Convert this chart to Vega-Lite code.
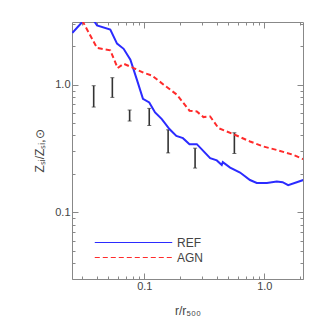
{
  "$schema": "https://vega.github.io/schema/vega-lite/v6.json",
  "width": 231,
  "height": 257,
  "autosize": {"type": "none"},
  "padding": {"left": 72, "top": 22, "right": 22, "bottom": 46},
  "background": "white",
  "config": {
    "view": {"stroke": null},
    "font": "Liberation Sans",
    "axis": {
      "domainColor": "#888888",
      "tickColor": "#888888",
      "labelColor": "#444444",
      "titleColor": "#444444",
      "labelFontSize": 11,
      "titleFontSize": 12,
      "titleFontWeight": "normal",
      "grid": false,
      "labelFont": "Liberation Sans",
      "titleFont": "Liberation Sans"
    }
  },
  "datasets": {
    "lines": [
      {"series": "REF", "r": 0.0252, "z": 2.55},
      {"series": "REF", "r": 0.0307, "z": 3.13},
      {"series": "REF", "r": 0.034, "z": 3.4},
      {"series": "REF", "r": 0.0384, "z": 3.13},
      {"series": "REF", "r": 0.0404, "z": 2.91},
      {"series": "REF", "r": 0.0521, "z": 2.70},
      {"series": "REF", "r": 0.0593, "z": 2.10},
      {"series": "REF", "r": 0.0673, "z": 1.91},
      {"series": "REF", "r": 0.0766, "z": 1.57},
      {"series": "REF", "r": 0.0869, "z": 1.09},
      {"series": "REF", "r": 0.0975, "z": 0.776},
      {"series": "REF", "r": 0.110, "z": 0.726},
      {"series": "REF", "r": 0.123, "z": 0.606},
      {"series": "REF", "r": 0.140, "z": 0.537},
      {"series": "REF", "r": 0.162, "z": 0.449},
      {"series": "REF", "r": 0.185, "z": 0.397},
      {"series": "REF", "r": 0.210, "z": 0.381},
      {"series": "REF", "r": 0.238, "z": 0.342},
      {"series": "REF", "r": 0.274, "z": 0.342},
      {"series": "REF", "r": 0.354, "z": 0.266},
      {"series": "REF", "r": 0.402, "z": 0.255},
      {"series": "REF", "r": 0.442, "z": 0.235},
      {"series": "REF", "r": 0.451, "z": 0.247},
      {"series": "REF", "r": 0.519, "z": 0.224},
      {"series": "REF", "r": 0.628, "z": 0.205},
      {"series": "REF", "r": 0.760, "z": 0.179},
      {"series": "REF", "r": 0.865, "z": 0.170},
      {"series": "REF", "r": 1.05, "z": 0.170},
      {"series": "REF", "r": 1.27, "z": 0.174},
      {"series": "REF", "r": 1.42, "z": 0.172},
      {"series": "REF", "r": 1.58, "z": 0.163},
      {"series": "REF", "r": 2.11, "z": 0.179},
      {"series": "AGN", "r": 0.028, "z": 3.6},
      {"series": "AGN", "r": 0.0307, "z": 3.13},
      {"series": "AGN", "r": 0.0404, "z": 1.94},
      {"series": "AGN", "r": 0.0521, "z": 1.86},
      {"series": "AGN", "r": 0.060, "z": 1.35},
      {"series": "AGN", "r": 0.0673, "z": 1.46},
      {"series": "AGN", "r": 0.0815, "z": 1.35},
      {"series": "AGN", "r": 0.0987, "z": 1.24},
      {"series": "AGN", "r": 0.116, "z": 1.18},
      {"series": "AGN", "r": 0.145, "z": 1.0},
      {"series": "AGN", "r": 0.187, "z": 0.835},
      {"series": "AGN", "r": 0.238, "z": 0.625},
      {"series": "AGN", "r": 0.274, "z": 0.617},
      {"series": "AGN", "r": 0.311, "z": 0.557},
      {"series": "AGN", "r": 0.354, "z": 0.563},
      {"series": "AGN", "r": 0.415, "z": 0.457},
      {"series": "AGN", "r": 0.552, "z": 0.410},
      {"series": "AGN", "r": 0.760, "z": 0.359},
      {"series": "AGN", "r": 0.98, "z": 0.328},
      {"series": "AGN", "r": 1.27, "z": 0.308},
      {"series": "AGN", "r": 1.74, "z": 0.282},
      {"series": "AGN", "r": 2.11, "z": 0.261}
    ],
    "obs": [
      {"r": 0.0379, "lo": 0.668, "hi": 0.982},
      {"r": 0.0542, "lo": 0.795, "hi": 1.135},
      {"r": 0.0755, "lo": 0.519, "hi": 0.633},
      {"r": 0.110, "lo": 0.479, "hi": 0.652},
      {"r": 0.158, "lo": 0.292, "hi": 0.443},
      {"r": 0.265, "lo": 0.222, "hi": 0.318},
      {"r": 0.563, "lo": 0.289, "hi": 0.420}
    ]
  },
  "resolve": {"axis": {"x": "independent", "y": "independent"}},
  "layer": [
    {
      "data": {"name": "obs"},
      "mark": {"type": "rule", "color": "#333333", "strokeWidth": 1.6, "clip": true},
      "encoding": {
        "x": {
          "field": "r", "type": "quantitative",
          "scale": {"type": "log", "domain": [0.025, 2.1], "nice": false},
          "title": "r/r₅₀₀",
          "axis": {
            "orient": "bottom",
            "values": [0.03,0.04,0.05,0.06,0.07,0.08,0.09,0.1,0.2,0.3,0.4,0.5,0.6,0.7,0.8,0.9,1,2],
            "labelExpr": "datum.value == 0.1 ? '0.1' : (datum.value == 1 ? '1.0' : '')",
            "tickSize": {"condition": {"test": "datum.value == 0.1 || datum.value == 1", "value": -6}, "value": -3},
            "labelPadding": 7,
            "titlePadding": 14
          }
        },
        "y": {
          "field": "lo", "type": "quantitative",
          "scale": {"type": "log", "domain": [0.03, 3.1], "nice": false},
          "title": "Zₛᵢ/Zₛᵢ,⊙",
          "axis": {
            "orient": "left",
            "values": [0.03,0.04,0.05,0.06,0.07,0.08,0.09,0.1,0.2,0.3,0.4,0.5,0.6,0.7,0.8,0.9,1,2,3],
            "labelExpr": "datum.value == 0.1 ? '0.1' : (datum.value == 1 ? '1.0' : '')",
            "tickSize": {"condition": {"test": "datum.value == 0.1 || datum.value == 1", "value": -6}, "value": -3},
            "labelPadding": 8,
            "titlePadding": 8
          }
        },
        "y2": {"field": "hi"}
      }
    },
    {
      "data": {"name": "obs"},
      "mark": {"type": "tick", "color": "#333333", "orient": "horizontal", "size": 4, "thickness": 1, "clip": true},
      "encoding": {
        "x": {"field": "r", "type": "quantitative", "axis": {
            "orient": "top",
            "values": [0.03,0.04,0.05,0.06,0.07,0.08,0.09,0.1,0.2,0.3,0.4,0.5,0.6,0.7,0.8,0.9,1,2],
            "labels": false, "title": null,
            "tickSize": {"condition": {"test": "datum.value == 0.1 || datum.value == 1", "value": -6}, "value": -3}
          }},
        "y": {"field": "lo", "type": "quantitative", "axis": {
            "orient": "right",
            "values": [0.03,0.04,0.05,0.06,0.07,0.08,0.09,0.1,0.2,0.3,0.4,0.5,0.6,0.7,0.8,0.9,1,2,3],
            "labels": false, "title": null,
            "tickSize": {"condition": {"test": "datum.value == 0.1 || datum.value == 1", "value": -6}, "value": -3}
          }}
      }
    },
    {
      "data": {"name": "obs"},
      "mark": {"type": "tick", "color": "#333333", "orient": "horizontal", "size": 4, "thickness": 1, "clip": true},
      "encoding": {
        "x": {"field": "r", "type": "quantitative", "axis": null},
        "y": {"field": "hi", "type": "quantitative", "axis": null}
      }
    },
    {
      "data": {"name": "lines"},
      "transform": [{"filter": "datum.series == 'REF'"}],
      "mark": {"type": "line", "strokeWidth": 2, "clip": true},
      "encoding": {
        "x": {"field": "r", "type": "quantitative", "axis": null},
        "y": {"field": "z", "type": "quantitative", "axis": null},
        "color": {
          "field": "series", "type": "nominal",
          "scale": {"domain": ["REF"], "range": ["#2b2bff"]},
          "legend": {
            "orient": "none", "legendX": 22, "legendY": 181, "title": null,
            "symbolType": "stroke", "symbolSize": 6000, "symbolStrokeWidth": 1.2,
            "symbolStrokeColor": "#2b2bff",
            "labelFont": "Liberation Sans", "labelFontSize": 12, "labelColor": "#444444",
            "labelOffset": 4
          }
        },
        "order": {"field": "r", "type": "quantitative"}
      }
    },
    {
      "data": {"name": "lines"},
      "transform": [{"filter": "datum.series == 'AGN'"}],
      "mark": {"type": "line", "strokeWidth": 2, "strokeDash": [5, 3], "clip": true},
      "encoding": {
        "x": {"field": "r", "type": "quantitative", "axis": null},
        "y": {"field": "z", "type": "quantitative", "axis": null},
        "stroke": {
          "field": "series", "type": "nominal",
          "scale": {"domain": ["AGN"], "range": ["#ff2b2b"]},
          "legend": {
            "orient": "none", "legendX": 22, "legendY": 196, "title": null,
            "symbolType": "stroke", "symbolSize": 6000, "symbolStrokeWidth": 1.2,
            "symbolStrokeColor": "#ff2b2b", "symbolDash": [5, 3],
            "labelFont": "Liberation Sans", "labelFontSize": 12, "labelColor": "#444444",
            "labelOffset": 4
          }
        },
        "order": {"field": "r", "type": "quantitative"}
      }
    }
  ]
}
